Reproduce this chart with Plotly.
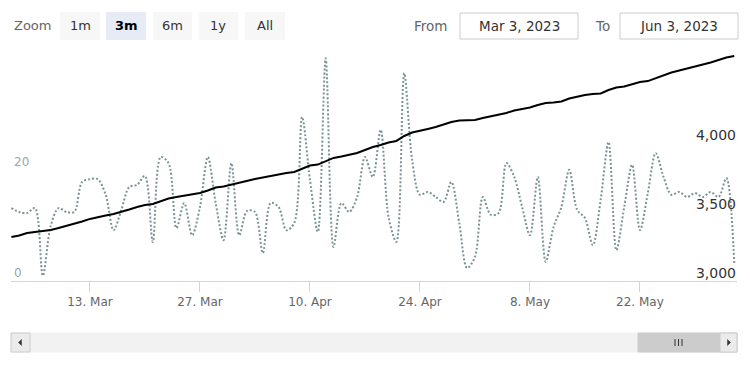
import plotly.graph_objects as go
import pandas as pd

# ---------------- data ----------------
dates = pd.date_range("2023-03-03", periods=93, freq="D")

dotted_values = [
    12.6, 11.9, 11.7, 12.6, 0.4, 9.4, 12.6, 11.9, 11.9, 17.3,
    17.8, 17.8, 15.0, 8.6, 12.3, 16.4, 16.8, 18.4, 6.5, 21.8,
    20.7, 9.0, 13.5, 7.7, 12.8, 21.8, 13.5, 6.8, 20.7, 7.7,
    12.1, 11.9, 4.5, 13.5, 12.8, 8.6, 9.9, 29.0, 17.7, 8.3,
    39.6, 5.6, 13.5, 11.9, 14.6, 21.8, 18.2, 26.7, 11.0, 6.5,
    36.9, 21.3, 15.0, 15.5, 14.6, 13.7, 17.3, 9.9, 1.8, 3.8,
    14.6, 11.4, 11.7, 20.7, 18.2, 12.8, 7.7, 18.2, 2.9, 9.2,
    12.8, 19.5, 12.3, 10.8, 5.9, 14.1, 24.5, 5.0, 12.8, 20.4,
    8.6, 15.3, 22.5, 18.2, 15.0, 15.5, 14.6, 15.3, 14.6, 15.5,
    14.6, 18.0, 2.7,
]

line_values = [
    3297, 3308, 3326, 3333, 3337, 3348, 3362, 3377, 3391, 3409,
    3428, 3442, 3453, 3464, 3478, 3496, 3514, 3529, 3536, 3558,
    3576, 3587, 3598, 3609, 3616, 3634, 3656, 3663, 3677, 3692,
    3706, 3717, 3728, 3739, 3754, 3761, 3768, 3793, 3815, 3822,
    3848, 3870, 3880, 3891, 3906, 3927, 3949, 3964, 3982, 3993,
    4029, 4054, 4065, 4080, 4094, 4112, 4130, 4141, 4141, 4145,
    4159, 4170, 4181, 4196, 4214, 4225, 4235, 4254, 4268, 4272,
    4279, 4301, 4315, 4326, 4333, 4337, 4362, 4380, 4388, 4406,
    4420, 4427, 4449, 4471, 4489, 4504, 4518, 4533, 4547, 4562,
    4580, 4598, 4609,
]

x_tick_dates = ["2023-03-13", "2023-03-27", "2023-04-10", "2023-04-24", "2023-05-08", "2023-05-22"]
x_tick_labels = ["13. Mar", "27. Mar", "10. Apr", "24. Apr", "8. May", "22. May"]
left_ticks = [0, 20]
left_tick_labels = ["0", "20"]
right_ticks = [3000, 3500, 4000]
right_tick_labels = ["3,000", "3,500", "4,000"]

zoom_buttons = ["1m", "3m", "6m", "1y", "All"]
selected_button = "3m"
from_label = "Mar 3, 2023"
to_label = "Jun 3, 2023"

# ---------------- layout geometry (pixels) ----------------
FW, FH = 750, 375
L, R, T, B = 11, 737, 55, 281
FONT = "DejaVu Sans"


def px(x):
    return (x - L) / (R - L)


def py(y):
    return (B - y) / (B - T)


fig = go.Figure()

fig.add_trace(go.Scatter(
    x=dates, y=dotted_values, mode="lines", yaxis="y",
    line=dict(color="#7a9494", width=2, dash="2px,2px", shape="spline", smoothing=0.9),
    hoverinfo="skip", showlegend=False,
))
fig.add_trace(go.Scatter(
    x=dates, y=line_values, mode="lines", yaxis="y2",
    line=dict(color="#000000", width=2),
    hoverinfo="skip", showlegend=False,
))

shapes = []
annotations = []

# range selector
annotations.append(dict(text="Zoom", x=px(32.5), y=py(26), xref="paper", yref="paper",
                        showarrow=False, xanchor="center", yanchor="middle",
                        font=dict(family=FONT, size=13, color="#666666")))
btn_x = [(60, 100), (106, 146), (153, 192), (199, 238), (245, 285)]
for (x0, x1), lab in zip(btn_x, zoom_buttons):
    sel = lab == selected_button
    shapes.append(dict(type="rect", xref="paper", yref="paper",
                       x0=px(x0), x1=px(x1), y0=py(40), y1=py(12),
                       fillcolor="#e6ebf5" if sel else "#f7f7f7", line=dict(width=0), layer="below"))
    annotations.append(dict(text=f"<b>{lab}</b>" if sel else lab, x=px((x0 + x1) / 2), y=py(26),
                            xref="paper", yref="paper", showarrow=False,
                            xanchor="center", yanchor="middle",
                            font=dict(family=FONT, size=13, color="#000000" if sel else "#333333")))

# input boxes
annotations.append(dict(text="From", x=px(431), y=py(26), xref="paper", yref="paper",
                        showarrow=False, xanchor="center", yanchor="middle",
                        font=dict(family=FONT, size=13.5, color="#666666")))
annotations.append(dict(text="To", x=px(602), y=py(26), xref="paper", yref="paper",
                        showarrow=False, xanchor="center", yanchor="middle",
                        font=dict(family=FONT, size=13.5, color="#666666")))
for (x0, x1), lab in zip([(460, 578), (620, 738)], [from_label, to_label]):
    shapes.append(dict(type="rect", xref="paper", yref="paper",
                       x0=px(x0), x1=px(x1), y0=py(39), y1=py(13),
                       fillcolor="#ffffff", line=dict(color="#cccccc", width=1)))
    annotations.append(dict(text=lab, x=px((x0 + x1) / 2), y=py(26), xref="paper", yref="paper",
                            showarrow=False, xanchor="center", yanchor="middle",
                            font=dict(family=FONT, size=13.5, color="#333333")))

# scrollbar
sy0, sy1 = 333, 352
shapes.append(dict(type="rect", xref="paper", yref="paper", x0=px(11), x1=px(737),
                   y0=py(sy1), y1=py(sy0), fillcolor="#f2f2f2", line=dict(color="#f2f2f2", width=1)))
shapes.append(dict(type="rect", xref="paper", yref="paper", x0=px(638), x1=px(737),
                   y0=py(sy1), y1=py(sy0), fillcolor="#cccccc", line=dict(color="#cccccc", width=1)))
for x0, x1 in [(11, 30), (720, 737)]:
    shapes.append(dict(type="rect", xref="paper", yref="paper", x0=px(x0), x1=px(x1),
                       y0=py(sy1), y1=py(sy0), fillcolor="#ebebeb", line=dict(color="#cccccc", width=1)))
# arrows
shapes.append(dict(type="path", xref="paper", yref="paper",
                   path=f"M {px(18.5)} {py(342.5)} L {px(21.5)} {py(339.5)} L {px(21.5)} {py(345.5)} Z",
                   fillcolor="#333333", line=dict(color="#333333", width=0.5)))
shapes.append(dict(type="path", xref="paper", yref="paper",
                   path=f"M {px(730.5)} {py(342.5)} L {px(727.5)} {py(339.5)} L {px(727.5)} {py(345.5)} Z",
                   fillcolor="#333333", line=dict(color="#333333", width=0.5)))
for gx in [675, 678.5, 682]:
    shapes.append(dict(type="line", xref="paper", yref="paper", x0=px(gx), x1=px(gx),
                       y0=py(346), y1=py(339), line=dict(color="#333333", width=1)))

fig.update_layout(
    width=FW, height=FH,
    margin=dict(l=L, r=FW - R, t=T, b=FH - B, pad=0),
    paper_bgcolor="#ffffff", plot_bgcolor="#ffffff",
    showlegend=False, hovermode=False,
    font=dict(family=FONT),
    xaxis=dict(
        type="date",
        range=[pd.Timestamp("2023-03-03") - pd.Timedelta(hours=1.2), pd.Timestamp("2023-06-03") + pd.Timedelta(hours=8.4)],
        showgrid=False, zeroline=False,
        showline=True, linecolor="#ccd6eb", linewidth=1,
        ticks="outside", ticklen=10, tickcolor="#ccd6eb", tickwidth=1,
        tickvals=x_tick_dates, ticktext=x_tick_labels,
        tickfont=dict(family=FONT, size=12, color="#666666"),
        fixedrange=True,
    ),
    yaxis=dict(
        range=[-0.54, 40.18], showgrid=False, zeroline=False, showline=False,
        tickvals=left_ticks, ticktext=left_tick_labels, ticks="",
        ticklabelposition="inside", ticklabelshift=-5,
        tickfont=dict(family=FONT, size=12, color="#98a9a9"),
        fixedrange=True,
    ),
    yaxis2=dict(
        range=[2978, 4616], overlaying="y", side="right",
        showgrid=False, zeroline=False, showline=False,
        tickvals=right_ticks, ticktext=right_tick_labels, ticks="",
        ticklabelposition="inside", ticklabelshift=-5, ticklabelstandoff=-2,
        tickfont=dict(family=FONT, size=14, color="#333333"),
        fixedrange=True,
    ),
    shapes=shapes,
    annotations=annotations,
)

fig.write_html(
    "out.html",
    config={"displayModeBar": False},
    post_script="document.body.style.margin='0';document.body.style.padding='0';",
)
